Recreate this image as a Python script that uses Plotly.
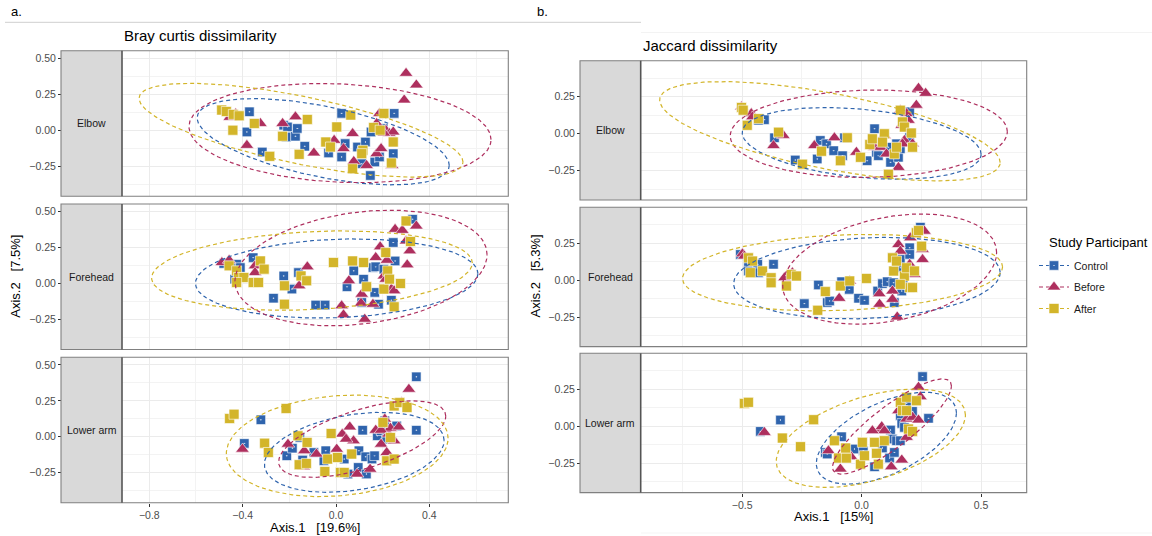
import numpy as np
import plotly.graph_objects as go

W, H = 1152, 536
GROUPS = ["Control", "Before", "After"]
SITES = ["Elbow", "Forehead", "Lower arm"]
COLORS = {"Control": "#2F64AD", "Before": "#AE2F5E", "After": "#D3B52A"}
SYMBOLS = {"Control": "square-dot", "Before": "triangle-up", "After": "square"}
SIZES = {"Control": 9.5, "Before": 12, "After": 10}

# ---------------- Bray curtis ordination (Axis.1, Axis.2) ----------------
bc_elbow_control = [(-0.371, 0.128), (-0.382, -0.012), (-0.316, -0.152), (-0.224, 0.035), (-0.208, 0.023),
                    (-0.213, -0.047), (-0.174, -0.042), (-0.166, 0.012), (-0.134, -0.112), (-0.032, -0.158),
                    (0.024, 0.117), (0.024, -0.186), (0.039, -0.093), (0.092, -0.117), (0.126, -0.082),
                    (0.11, -0.233), (0.147, -0.315), (0.166, -0.221), (0.186, -0.186), (0.202, 0.012),
                    (0.245, -0.163), (0.249, 0.117), (0.15, -0.012)]
bc_elbow_before = [(-0.455, 0.09), (-0.43, 0.115), (-0.324, 0.047), (-0.382, -0.105), (-0.229, 0.047),
                   (-0.174, 0.093), (-0.095, -0.158), (-0.008, -0.07), (0.032, -0.128), (0.071, -0.023),
                   (0.076, -0.217), (0.131, -0.245), (0.174, -0.163), (0.193, -0.128), (0.186, 0.117),
                   (0.174, 0.047), (0.213, 0.0), (0.229, -0.023), (0.245, -0.012), (0.24, -0.245),
                   (0.292, 0.21), (0.3, 0.396), (0.344, 0.315), (0.205, -0.02)]
bc_elbow_after = [(-0.49, 0.14), (-0.47, 0.13), (-0.44, 0.11), (-0.415, 0.10), (-0.442, 0.0),
                  (-0.35, 0.047), (-0.123, 0.075), (-0.229, -0.042), (-0.158, -0.168), (-0.284, -0.182),
                  (-0.044, -0.082), (-0.024, -0.117), (0.003, 0.023), (0.115, -0.14), (0.161, 0.019),
                  (0.189, 0.0), (0.063, 0.105), (0.071, -0.268), (0.245, -0.082), (0.237, -0.228),
                  (0.205, 0.117), (0.11, -0.163)]

bc_forehead_control = [(-0.481, 0.139), (-0.426, 0.134), (-0.41, 0.111), (-0.355, 0.18), (-0.434, 0.03),
                       (-0.224, 0.053), (-0.161, 0.076), (-0.189, -0.039), (-0.268, -0.102), (-0.087, -0.15),
                       (-0.047, -0.15), (0.047, -0.023), (0.076, 0.088), (0.118, 0.03), (0.158, 0.111),
                       (0.17, 0.116), (0.205, 0.1), (0.253, 0.157), (0.245, 0.285), (0.166, -0.062),
                       (0.11, -0.132), (0.182, -0.144), (0.237, -0.116), (0.328, 0.447)]
bc_forehead_before = [(-0.489, 0.146), (-0.458, 0.162), (-0.347, 0.123), (-0.347, 0.076), (-0.123, 0.116),
                      (-0.158, -0.016), (0.024, -0.155), (0.032, -0.218), (0.055, 0.019), (0.11, -0.074),
                      (0.107, -0.137), (0.123, -0.248), (0.158, -0.144), (0.17, 0.181), (0.189, 0.255),
                      (0.218, 0.162), (0.205, 0.053), (0.213, 0.03), (0.237, -0.039), (0.249, -0.051),
                      (0.253, 0.377), (0.284, 0.37), (0.344, 0.4), (0.3, 0.296), (0.316, 0.227), (0.305, 0.13)]
bc_forehead_after = [(-0.458, 0.123), (-0.426, 0.088), (-0.418, 0.042), (-0.395, 0.042), (-0.426, 0.007),
                     (-0.355, 0.007), (-0.332, 0.007), (-0.324, 0.157), (-0.308, 0.1), (-0.221, -0.016),
                     (-0.221, -0.144), (-0.15, 0.053), (-0.126, 0.019), (-0.011, 0.146), (0.071, 0.157),
                     (0.118, 0.146), (0.131, -0.023), (0.213, 0.215), (0.221, 0.088), (0.205, -0.039),
                     (0.229, 0.03), (0.276, 0.0), (0.249, -0.162), (0.3, 0.435), (0.319, 0.292)]

bc_lowerarm_control = [(-0.322, 0.118), (-0.393, -0.046), (-0.211, -0.132), (-0.187, -0.079), (-0.155, -0.005),
                       (-0.095, -0.109), (-0.044, -0.097), (-0.143, -0.162), (-0.052, -0.167), (0.019, -0.248),
                       (0.051, -0.259), (0.035, -0.155), (0.098, -0.097), (0.114, 0.046), (0.095, -0.213),
                       (0.13, -0.259), (0.127, -0.139), (0.154, -0.155), (0.165, -0.132), (0.177, 0.007),
                       (0.193, 0.042), (0.217, -0.016), (0.26, 0.076), (0.344, 0.046), (0.344, 0.417),
                       (0.209, 0.111)]
bc_lowerarm_before = [(-0.401, -0.086), (-0.206, -0.051), (-0.136, -0.097), (-0.084, -0.12), (-0.139, -0.208),
                      (0.003, -0.086), (0.027, 0.019), (0.059, 0.069), (0.075, -0.028), (0.043, -0.016),
                      (0.09, -0.259), (0.146, -0.225), (0.17, 0.046), (0.209, 0.123), (0.193, -0.051),
                      (0.225, 0.019), (0.217, -0.109), (0.233, 0.06), (0.249, -0.028), (0.269, 0.069),
                      (0.281, 0.238), (0.312, 0.331), (0.193, 0.046)]
bc_lowerarm_after = [(-0.456, 0.127), (-0.437, 0.157), (-0.214, 0.197), (-0.306, -0.044), (-0.29, -0.109),
                     (-0.163, 0.007), (-0.124, -0.039), (-0.158, -0.194), (-0.127, -0.185), (-0.048, -0.241),
                     (-0.036, -0.155), (-0.021, 0.023), (0.006, -0.144), (0.019, -0.248), (0.035, -0.248),
                     (0.067, -0.12), (0.201, 0.1), (0.217, -0.167), (0.249, -0.155), (0.249, 0.215),
                     (0.273, 0.238), (0.304, 0.204), (0.233, -0.005)]

# ---------------- Jaccard ordination (Axis.1, Axis.2) ----------------
jc_elbow_control = [(-0.407, 0.095), (-0.432, 0.091), (-0.365, -0.027), (-0.278, -0.177), (-0.186, -0.17),
                    (-0.173, -0.045), (-0.147, -0.068), (-0.117, -0.114), (-0.08, -0.148), (-0.072, -0.027),
                    (0.023, -0.182), (0.054, 0.034), (0.062, -0.125), (0.07, -0.148), (0.112, -0.091),
                    (0.121, -0.193), (0.154, -0.159), (0.162, -0.102), (0.201, 0.148), (0.201, -0.023),
                    (0.146, -0.068)]
jc_elbow_before = [(-0.503, 0.182), (-0.462, 0.136), (-0.457, 0.114), (-0.369, -0.08), (-0.328, -0.011),
                   (-0.198, -0.08), (-0.114, -0.027), (-0.022, -0.125), (0.054, -0.091), (0.079, -0.091),
                   (0.095, -0.011), (0.104, -0.136), (0.154, -0.227), (0.162, 0.159), (0.168, 0.057),
                   (0.179, -0.045), (0.188, 0.136), (0.196, 0.091), (0.213, -0.068), (0.229, 0.193),
                   (0.238, 0.307), (0.268, 0.273), (0.171, -0.068)]
jc_elbow_after = [(-0.503, 0.177), (-0.496, 0.159), (-0.479, 0.057), (-0.432, 0.102), (-0.348, 0.011),
                  (-0.248, -0.205), (-0.168, -0.118), (-0.089, -0.182), (-0.06, -0.027), (-0.005, -0.159),
                  (0.034, -0.073), (0.045, -0.034), (0.095, 0.0), (0.087, -0.057), (0.137, -0.136),
                  (0.112, -0.273), (0.162, 0.159), (0.171, 0.08), (0.179, 0.045), (0.213, -0.091),
                  (0.208, 0.005), (0.146, -0.091)]

jc_forehead_control = [(-0.508, 0.175), (-0.474, 0.119), (-0.474, 0.063), (-0.435, 0.108), (-0.432, 0.052),
                       (-0.369, 0.108), (-0.24, -0.157), (-0.181, -0.031), (-0.144, -0.15), (-0.134, -0.139),
                       (-0.084, -0.009), (-0.052, -0.061), (-0.013, -0.121), (0.012, -0.135), (0.067, -0.072),
                       (0.087, -0.022), (0.107, -0.009), (0.134, -0.016), (0.137, -0.15), (0.162, 0.085),
                       (0.168, -0.072), (0.174, -0.027), (0.162, 0.141), (0.201, 0.22), (0.201, 0.175),
                       (0.246, 0.359)]
jc_forehead_before = [(-0.499, 0.179), (-0.491, 0.164), (-0.323, 0.018), (-0.29, 0.052), (-0.05, -0.004),
                      (-0.094, -0.121), (0.074, -0.09), (0.075, -0.161), (0.129, -0.072), (0.129, -0.128),
                      (0.149, -0.247), (0.154, 0.242), (0.162, 0.197), (0.201, 0.108), (0.204, 0.287),
                      (0.255, 0.209), (0.255, 0.141), (0.263, 0.332), (0.221, 0.04)]
jc_forehead_after = [(-0.474, 0.152), (-0.457, 0.13), (-0.466, 0.052), (-0.415, 0.063), (-0.379, 0.018),
                     (-0.379, -0.016), (-0.315, -0.038), (-0.295, 0.04), (-0.273, 0.029), (-0.184, -0.202),
                     (-0.152, -0.076), (-0.089, -0.038), (-0.05, -0.004), (0.02, 0.013), (0.129, 0.152),
                     (0.134, 0.063), (0.146, 0.13), (0.179, 0.029), (0.188, 0.085), (0.201, -0.049),
                     (0.213, -0.049), (0.221, 0.063), (0.229, 0.321), (0.238, 0.336), (0.251, 0.231),
                     (0.162, -0.027)]

jc_lowerarm_control = [(-0.424, -0.034), (-0.34, 0.043), (-0.152, -0.176), (-0.144, -0.187), (-0.084, -0.07),
                       (-0.03, -0.153), (0.007, -0.164), (0.054, -0.273), (0.087, -0.146), (0.121, -0.025),
                       (0.129, -0.086), (0.146, -0.097), (0.117, -0.214), (0.137, -0.176), (0.162, 0.072),
                       (0.168, 0.02), (0.188, 0.155), (0.213, 0.101), (0.28, 0.054), (0.255, 0.336),
                       (0.162, -0.097), (0.179, -0.007)]
jc_lowerarm_before = [(-0.407, -0.041), (-0.089, -0.288), (-0.072, -0.187), (-0.044, -0.205), (-0.139, -0.164),
                      (0.079, -0.018), (0.084, -0.002), (0.095, -0.029), (0.124, -0.273), (0.168, -0.227),
                      (0.154, 0.106), (0.188, 0.05), (0.188, -0.074), (0.213, 0.061), (0.238, 0.264),
                      (0.246, 0.2), (0.238, 0.043), (0.045, -0.029)]
jc_lowerarm_after = [(-0.491, 0.155), (-0.474, 0.162), (-0.332, -0.079), (-0.256, -0.137), (-0.201, 0.045),
                     (-0.114, -0.097), (-0.097, -0.214), (-0.064, -0.214), (-0.067, -0.146), (-0.005, -0.255),
                     (0.003, -0.108), (0.012, -0.198), (0.054, -0.108), (0.062, -0.182), (0.07, -0.255),
                     (0.095, -0.097), (0.162, 0.162), (0.171, 0.106), (0.188, 0.196), (0.196, -0.018),
                     (0.213, -0.034), (0.229, 0.173), (0.188, 0.106)]

# 95% ellipses: (centre x, centre y, half-width x, half-height y, tilt)
bc_elbow_ellipses = [(-0.055, -0.08, 0.54, 0.30, -0.55), (0.017, -0.02, 0.647, 0.345, -0.13), (-0.15, 0.0, 0.694, 0.326, -0.68)]
bc_forehead_ellipses = [(0.003, 0.035, 0.605, 0.275, 0.12), (0.107, 0.108, 0.54, 0.402, 0.23), (-0.103, 0.09, 0.687, 0.276, 0.19)]
bc_lowerarm_ellipses = [(0.078, -0.108, 0.385, 0.278, 0.3), (0.112, -0.016, 0.358, 0.266, 0.6), (0.005, -0.063, 0.475, 0.353, 0.15)]
jc_elbow_ellipses = [(0.0, -0.065, 0.5, 0.242, -0.3), (0.03, 0.0, 0.58, 0.295, 0.05), (-0.133, 0.017, 0.713, 0.335, -0.63)]
jc_forehead_ellipses = [(0.022, 0.015, 0.558, 0.275, 0.14), (0.117, 0.076, 0.448, 0.372, 0.3), (-0.08, 0.052, 0.67, 0.258, 0.15)]
jc_lowerarm_ellipses = [(0.1035, -0.08, 0.2935, 0.31, 0.55), (0.127, -0.001, 0.249, 0.321, 0.85), (0.0385, -0.08, 0.396, 0.332, 0.47)]

left_x_ticks = [-0.8, -0.4, 0.0, 0.4]
left_x_minor = [-0.6, -0.2, 0.2, 0.6]
left_y_ticks = [0.50, 0.25, 0.00, -0.25]
left_y_minor = [0.375, 0.125, -0.125, -0.375]
right_x_ticks = [-0.5, 0.0, 0.5]
right_x_minor = [-0.75, -0.25, 0.25]
right_y_ticks = [0.25, 0.00, -0.25]
right_y_minor = [0.375, 0.125, -0.125, -0.375]

panels = [
    ("bc", "Elbow", [bc_elbow_control, bc_elbow_before, bc_elbow_after], bc_elbow_ellipses),
    ("bc", "Forehead", [bc_forehead_control, bc_forehead_before, bc_forehead_after], bc_forehead_ellipses),
    ("bc", "Lower arm", [bc_lowerarm_control, bc_lowerarm_before, bc_lowerarm_after], bc_lowerarm_ellipses),
    ("jc", "Elbow", [jc_elbow_control, jc_elbow_before, jc_elbow_after], jc_elbow_ellipses),
    ("jc", "Forehead", [jc_forehead_control, jc_forehead_before, jc_forehead_after], jc_forehead_ellipses),
    ("jc", "Lower arm", [jc_lowerarm_control, jc_lowerarm_before, jc_lowerarm_after], jc_lowerarm_ellipses),
]

# ---------------- layout geometry (pixels) ----------------
L = dict(strip_l=61, plot_l=122, plot_r=508.3, rows=[(50.7, 196.2), (204.0, 349.5), (357.3, 502.8)],
         xr=[-0.917, 0.738], yr=[-0.459, 0.553], xt=left_x_ticks, xm=left_x_minor,
         yt=left_y_ticks, ym=left_y_minor)
R = dict(strip_l=580, plot_l=640.7, plot_r=1026.7, rows=[(60.7, 200.0), (207.3, 346.6), (353.3, 492.6)],
         xr=[-0.925, 0.691], yr=[-0.447, 0.493], xt=right_x_ticks, xm=right_x_minor,
         yt=right_y_ticks, ym=right_y_minor)


def fx(p):
    return p / W


def fy(p):
    return 1 - p / H


FONT = "Liberation Sans, Arial, Helvetica, sans-serif"
GRID = "#EBEBEB"
MINOR = "#F3F3F3"

fig = go.Figure()
layout = {}
shapes = []
annotations = []

for k, (meth, site, pts, ells) in enumerate(panels, start=1):
    G = L if meth == "bc" else R
    row = k - 1 if meth == "bc" else k - 4
    top, bot = G["rows"][row]
    xa = "x" if k == 1 else f"x{k}"
    ya = "y" if k == 1 else f"y{k}"
    bottom = row == 2
    layout["xaxis" if k == 1 else f"xaxis{k}"] = dict(
        domain=[fx(G["plot_l"]), fx(G["plot_r"])], anchor=ya, range=G["xr"],
        tickvals=G["xt"], tickformat=".1f", showticklabels=bottom,
        ticks="outside" if bottom else "", ticklen=3, tickwidth=1, tickcolor="#333333",
        tickfont=dict(size=10.5, color="#4D4D4D", family=FONT),
        showgrid=True, gridcolor=GRID, gridwidth=1.1, zeroline=False, showline=False,
        minor=dict(tickvals=G["xm"], showgrid=True, gridcolor=MINOR, gridwidth=0.7, ticks=""),
    )
    layout["yaxis" if k == 1 else f"yaxis{k}"] = dict(
        domain=[fy(bot), fy(top)], anchor="free", position=fx(G["strip_l"]), range=G["yr"],
        tickvals=G["yt"], tickformat=".2f", ticks="outside", ticklen=3, tickwidth=1, tickcolor="#333333",
        tickfont=dict(size=10.5, color="#4D4D4D", family=FONT),
        showgrid=True, gridcolor=GRID, gridwidth=1.1, zeroline=False, showline=False,
        minor=dict(tickvals=G["ym"], showgrid=True, gridcolor=MINOR, gridwidth=0.7, ticks=""),
    )
    for g, p in zip(GROUPS, pts):
        arr = np.array(p)
        fig.add_trace(go.Scatter(
            x=arr[:, 0], y=arr[:, 1], mode="markers", xaxis=xa, yaxis=ya, showlegend=False,
            marker=dict(symbol=SYMBOLS[g], size=SIZES[g], color=COLORS[g],
                        line=dict(color="rgba(255,255,255,0.75)", width=0.8)),
            hoverinfo="skip"))
    t = np.linspace(0, 2 * np.pi, 181)
    for g, (cx, cy, rx, ry, c) in zip(GROUPS, ells):
        phi = np.arccos(c)
        fig.add_trace(go.Scatter(
            x=cx + rx * np.cos(t), y=cy + ry * np.cos(t - phi), mode="lines", xaxis=xa, yaxis=ya,
            showlegend=False, line=dict(color=COLORS[g], width=1.2, dash="4px,3px"), hoverinfo="skip"))
    # strip + borders
    shapes.append(dict(type="rect", xref="paper", yref="paper", x0=fx(G["strip_l"]), x1=fx(G["plot_l"]),
                       y0=fy(bot), y1=fy(top), fillcolor="#D9D9D9", line=dict(width=0), layer="above"))
    shapes.append(dict(type="rect", xref="paper", yref="paper", x0=fx(G["strip_l"]), x1=fx(G["plot_r"]),
                       y0=fy(bot), y1=fy(top), fillcolor="rgba(0,0,0,0)",
                       line=dict(color="#808080", width=1.1), layer="above"))
    shapes.append(dict(type="line", xref="paper", yref="paper", x0=fx(G["plot_l"]), x1=fx(G["plot_l"]),
                       y0=fy(bot), y1=fy(top), line=dict(color="#555555", width=1.6), layer="above"))
    annotations.append(dict(text=site, xref="paper", yref="paper",
                            x=fx((G["strip_l"] + G["plot_l"]) / 2), y=fy((top + bot) / 2),
                            xanchor="center", yanchor="middle",
                            showarrow=False, font=dict(size=10.5, color="#1A1A1A", family=FONT)))

# legend entries
for g in GROUPS:
    fig.add_trace(go.Scatter(
        x=[None], y=[None], mode="lines+markers", name=g, xaxis="x", yaxis="y", legendgroup=g,
        marker=dict(symbol=SYMBOLS[g], size=SIZES[g], color=COLORS[g],
                    line=dict(color="rgba(255,255,255,0.75)", width=0.8)),
        line=dict(color=COLORS[g], width=1.2, dash="4px,3px")))

# header lines
shapes.append(dict(type="line", xref="paper", yref="paper", x0=fx(5), x1=fx(641), y0=fy(22.3), y1=fy(22.3),
                   line=dict(color="#CFCFCF", width=1)))
shapes.append(dict(type="line", xref="paper", yref="paper", x0=fx(641), x1=1, y0=fy(32.5), y1=fy(32.5),
                   line=dict(color="#F3F3F3", width=1)))
shapes.append(dict(type="line", xref="paper", yref="paper", x0=fx(641), x1=1, y0=fy(533), y1=fy(533),
                   line=dict(color="#F5F5F5", width=1)))

def text(s, x, y, size, color="#000000", xanchor="center", angle=0):
    annotations.append(dict(text=s, xref="paper", yref="paper", x=fx(x), y=fy(y), showarrow=False,
                            xanchor=xanchor, yanchor="middle", textangle=angle,
                            font=dict(size=size, color=color, family=FONT)))

nb = "\u00a0"
text("a.", 9, 12, 13, xanchor="left")
text("b.", 535, 12, 13, xanchor="left")
text("Bray curtis dissimilarity", 122, 35.5, 15, xanchor="left")
text("Jaccard dissimilarity", 640.5, 46, 15, xanchor="left")
text(f"Axis.1{nb*3}[19.6%]", (122 + 508.3) / 2, 527, 13)
text(f"Axis.1{nb*3}[15%]", (640.7 + 1026.7) / 2, 516.5, 13)
text(f"Axis.2{nb*3}[7.5%]", 16, 276.7, 13, angle=-90)
text(f"Axis.2{nb*3}[5.3%]", 535, 276.5, 13, angle=-90)
text("Study Participant", 1046.5, 242.5, 13, xanchor="left")

fig.update_layout(
    width=W, height=H, margin=dict(l=0, r=0, t=0, b=0), autosize=False,
    paper_bgcolor="white", plot_bgcolor="white",
    font=dict(family=FONT),
    shapes=shapes, annotations=annotations,
    showlegend=True,
    legend=dict(x=fx(1034), y=fy(251), xanchor="left", yanchor="top", bgcolor="rgba(0,0,0,0)",
                font=dict(size=10.5, color="#1A1A1A", family=FONT), itemwidth=30, tracegroupgap=2.5),
    **layout,
)

fig.write_html("out.html")
